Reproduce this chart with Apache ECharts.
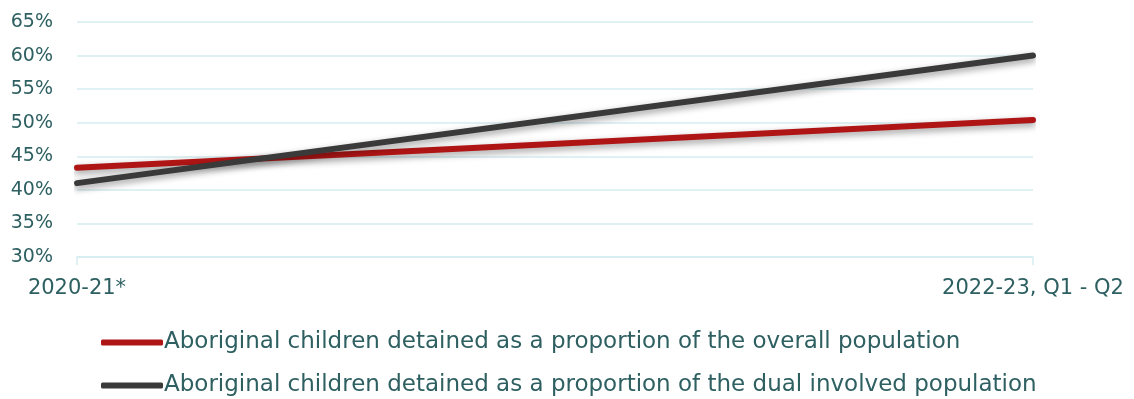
<!DOCTYPE html>
<html>
<head>
<meta charset="utf-8">
<script src="https://cdn.jsdelivr.net/npm/echarts@6/dist/echarts.min.js"></script>
<style>
  html, body { margin: 0; padding: 0; background: #fff; }
  #chart { width: 1134px; height: 399px; }
</style>
</head>
<body>
<div id="chart"></div>
<script>
// Periods on the horizontal axis
const periods = ['2020-21*', '2022-23, Q1 - Q2'];
// Share of Aboriginal children detained (%)
const overallShare = [43.3, 50.4];
const dualInvolvedShare = [41.0, 60.0];
// Series names shown in the legend
const seriesNames = [
  'Aboriginal children detained as a proportion of the overall population',
  'Aboriginal children detained as a proportion of the dual involved population'
];

const textColor = '#2e5f61';
const gridColor = '#d6edf1';
const fontFamily = '"Century Gothic", "DejaVu Sans", sans-serif';

const chart = echarts.init(document.getElementById('chart'), null, { renderer: 'canvas' });

function lineSeries(name, data, color) {
  return {
    name: name,
    type: 'line',
    data: data,
    showSymbol: false,
    symbol: 'none',
    lineStyle: {
      color: color,
      width: 6,
      cap: 'round',
      shadowColor: 'rgba(0,0,0,0.4)',
      shadowBlur: 7,
      shadowOffsetY: 3
    },
    itemStyle: { color: color },
    emphasis: { disabled: true }
  };
}

chart.setOption({
  animation: false,
  grid: { left: 77, right: 101, top: 22, bottom: 142, containLabel: false },
  xAxis: {
    type: 'category',
    data: periods,
    boundaryGap: false,
    axisLine: { show: true, lineStyle: { color: gridColor, width: 1.5 } },
    axisTick: { show: true, length: 8, lineStyle: { color: gridColor, width: 1.5 } },
    axisLabel: { color: textColor, fontSize: 21, fontFamily: fontFamily, margin: 21 },
    splitLine: { show: false }
  },
  yAxis: {
    type: 'value',
    min: 30,
    max: 65,
    interval: 5,
    axisLine: { show: false },
    axisTick: { show: false },
    axisLabel: {
      color: textColor, fontSize: 19, fontFamily: fontFamily, margin: 24,
      formatter: v => v + '%'
    },
    splitLine: { lineStyle: { color: gridColor, width: 1.5 } }
  },
  legend: {
    orient: 'vertical',
    left: 101,
    top: 331,
    padding: 0,
    itemGap: 20,
    itemWidth: 62,
    itemHeight: 6,
    icon: 'roundRect',
    textStyle: { color: textColor, fontSize: 23, fontFamily: fontFamily, padding: [0, 0, 0, -4] },
    data: seriesNames
  },
  series: [
    lineSeries(seriesNames[0], overallShare, '#b01515'),
    lineSeries(seriesNames[1], dualInvolvedShare, '#3a3a3a')
  ]
});
</script>
</body>
</html>
